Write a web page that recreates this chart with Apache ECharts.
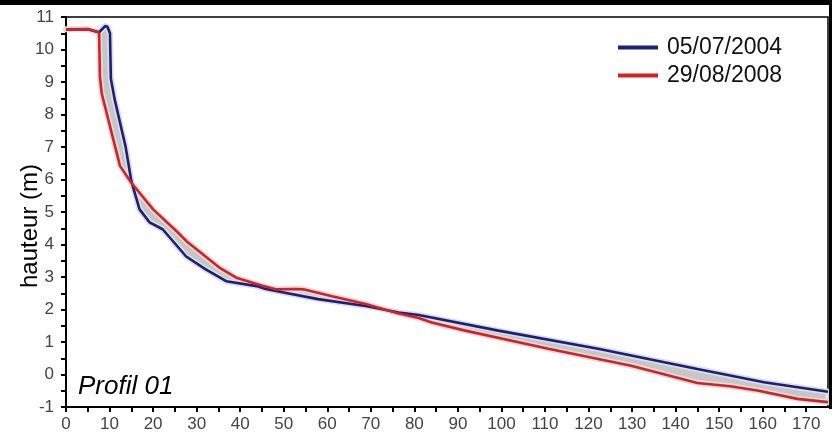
<!DOCTYPE html>
<html>
<head>
<meta charset="utf-8">
<script src="https://cdn.jsdelivr.net/npm/echarts@6/dist/echarts.min.js"></script>
<style>html,body{margin:0;padding:0;background:#fff;}#c{width:832px;height:435px;}</style>
</head>
<body>
<div id="c"></div>
<script>
// Distance (m) and height (m) for each survey
const seriesNames = ['05/07/2004', '29/08/2008'];
const dist2004 = [0, 5, 7.6, 9.0, 9.5, 10.1, 10.3, 11.2, 13.7, 15, 16.9, 19.2, 22.2, 27.6, 32, 36.8, 43.8, 45.9, 49.7, 57.9, 68.8, 76.4, 81, 99.3, 122.2, 145, 160.3, 175];
const h2004    = [10.62, 10.62, 10.53, 10.72, 10.7, 10.5, 9.1, 8.45, 7.0, 5.95, 5.08, 4.68, 4.47, 3.63, 3.24, 2.87, 2.72, 2.63, 2.53, 2.32, 2.11, 1.91, 1.83, 1.35, 0.79, 0.17, -0.24, -0.53];
const dist2008 = [0, 5, 7.6, 7.8, 8.2, 12.4, 15, 20, 25.7, 27.6, 35.2, 39.1, 45.1, 48.2, 52.8, 54.5, 61.1, 68.8, 76.4, 81, 84, 91.7, 110.8, 129.8, 141.3, 145, 152.6, 158.8, 168, 175];
const h2008    = [10.62, 10.63, 10.52, 9.15, 8.65, 6.42, 5.9, 5.08, 4.37, 4.11, 3.29, 2.98, 2.73, 2.62, 2.63, 2.62, 2.41, 2.17, 1.88, 1.74, 1.6, 1.35, 0.79, 0.27, -0.13, -0.26, -0.36, -0.49, -0.75, -0.85];
const xTicks = { min: 0, max: 175, tickStep: 5, labelStep: 10 };
const yTicks = { min: -1, max: 11, tickStep: 0.5, labelStep: 1 };

const pts2004 = dist2004.map((d, i) => [d, h2004[i]]);
const pts2008 = dist2008.map((d, i) => [d, h2008[i]]);

const chart = echarts.init(document.getElementById('c'), null, { renderer: 'canvas' });
const FONT = 'Liberation Sans, Arial, sans-serif';
function stepLabel(step) {
  return function (v) { return Math.abs(v / step - Math.round(v / step)) < 1e-6 ? String(Math.round(v)) : ''; };
}

chart.setOption({
  animation: false,
  backgroundColor: '#fff',
  grid: { left: 66, right: 4, top: 17, bottom: 28, show: true, borderColor: '#000', borderWidth: 1.5, backgroundColor: '#fff' },
  legend: {
    orient: 'vertical', left: 613, top: 31,
    itemWidth: 40, itemHeight: 4, itemGap: 5,
    icon: 'rect',
    textStyle: { fontFamily: FONT, fontSize: 23, color: '#111', padding: [0, 0, 0, 4] },
    data: seriesNames
  },
  xAxis: {
    type: 'value', min: xTicks.min, max: xTicks.max, interval: xTicks.tickStep,
    axisLine: { onZero: false, lineStyle: { color: '#000', width: 2 } },
    axisTick: { show: true, inside: false, length: 5, lineStyle: { color: '#000', width: 2 } },
    splitLine: { show: false },
    axisLabel: { fontFamily: FONT, fontSize: 17, color: '#444', margin: 9, showMaxLabel: false,
      formatter: stepLabel(xTicks.labelStep) }
  },
  yAxis: {
    type: 'value', min: yTicks.min, max: yTicks.max, interval: yTicks.tickStep,
    axisLine: { show: true, onZero: false, lineStyle: { color: '#000', width: 2 } },
    axisTick: { show: true, inside: false, length: 5, lineStyle: { color: '#000', width: 2 } },
    splitLine: { show: false },
    axisLabel: { fontFamily: FONT, fontSize: 17, color: '#444', margin: 12,
      formatter: stepLabel(yTicks.labelStep) }
  },
  graphic: [
    { type: 'rect', left: 0, top: 0, shape: { width: 832, height: 5 }, style: { fill: '#000' }, z: 100 },
    { type: 'rect', left: 829, top: 0, shape: { width: 3, height: 409 }, style: { fill: '#000' }, z: 100 },
    { type: 'text', x: 30, y: 226, rotation: Math.PI / 2,
      style: { text: 'hauteur (m)', font: '24px ' + FONT, fill: '#000', align: 'center', verticalAlign: 'middle' }, z: 100 },
    { type: 'text', x: 78, y: 387,
      style: { text: 'Profil 01', font: 'italic 26px ' + FONT, fill: '#000', align: 'left', verticalAlign: 'middle' }, z: 100 }
  ],
  series: [
    {
      type: 'custom', name: 'band', coordinateSystem: 'cartesian2d', silent: true, z: 1,
      data: [[0, 0]],
      renderItem: function (params, api) {
        const poly = pts2004.map(p => api.coord(p)).concat(pts2008.slice().reverse().map(p => api.coord(p)));
        return {
          type: 'polygon',
          shape: { points: poly },
          style: { fill: '#c6c6c6', stroke: '#dedede', lineWidth: 6, lineJoin: 'round' }
        };
      }
    },
    {
      name: seriesNames[0], type: 'line', data: pts2004, showSymbol: false, z: 3,
      color: '#1b1f7c', lineStyle: { color: '#1b1f7c', width: 2.6 }
    },
    {
      name: seriesNames[1], type: 'line', data: pts2008, showSymbol: false, z: 4,
      color: '#d42026', lineStyle: { color: '#d42026', width: 2.6 }
    }
  ]
});
</script>
</body>
</html>
